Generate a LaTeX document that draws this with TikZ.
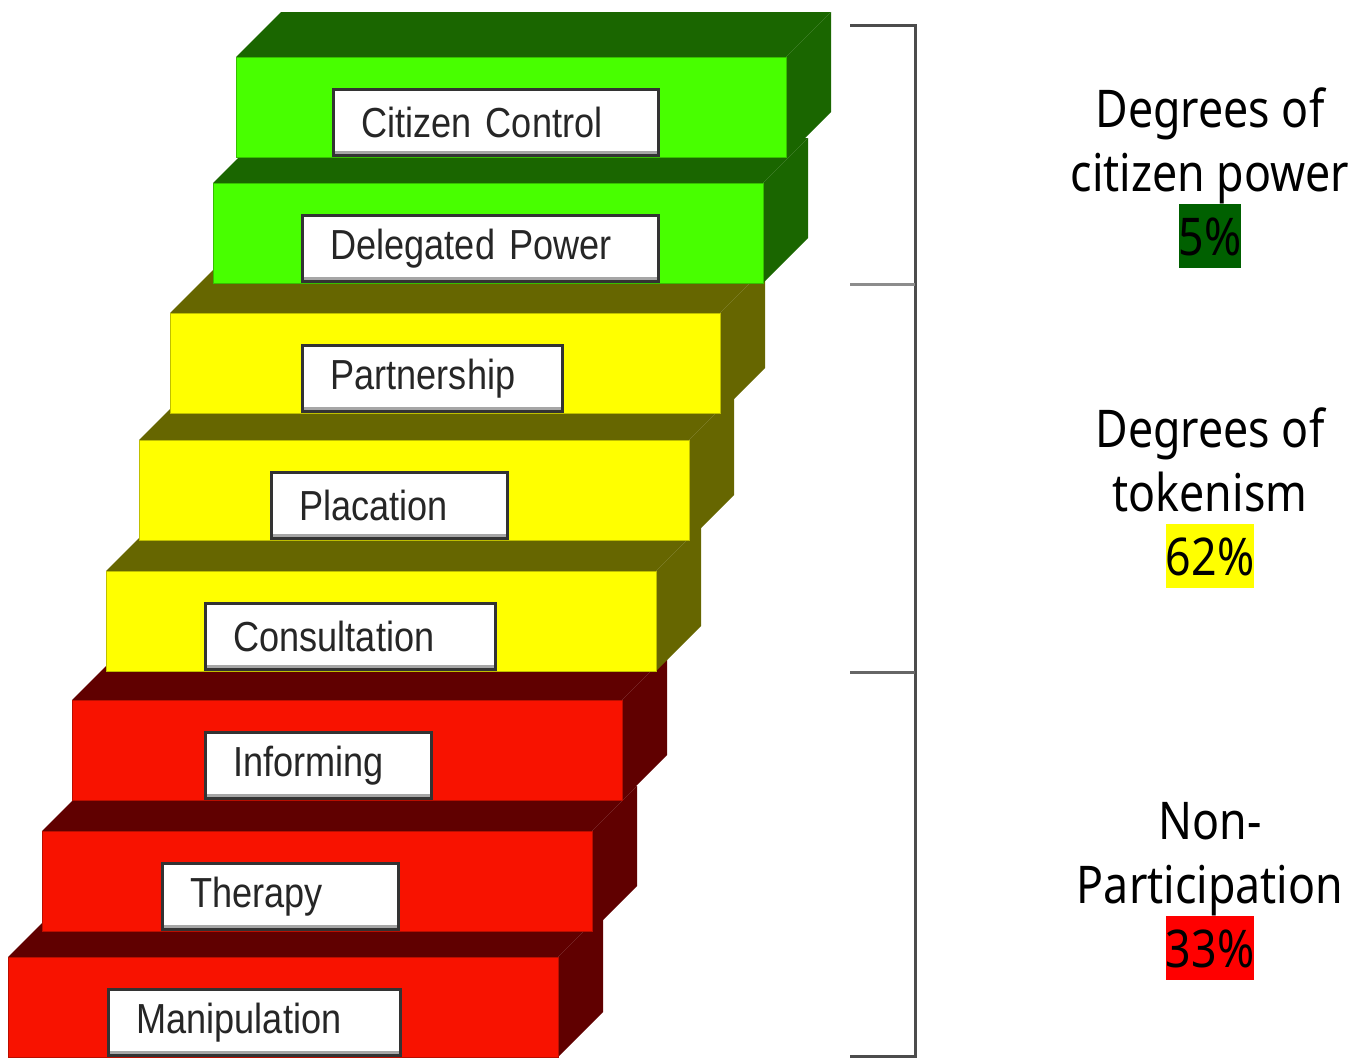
\documentclass[tikz,border=0pt]{standalone}
\usepackage{fontspec}
\setmainfont{Liberation Sans}
\newfontfamily\rungfont[FakeStretch=0.86]{Liberation Sans}
\newfontfamily\sidefont[FakeStretch=0.86]{Noto Sans}

\definecolor{grnfront}{HTML}{48FF00}
\definecolor{grnside}{HTML}{1A6600}
\definecolor{yelfront}{HTML}{FFFF00}
\definecolor{yelside}{HTML}{666600}
\definecolor{redfront}{HTML}{F81200}
\definecolor{redside}{HTML}{600000}
\definecolor{pctgreen}{HTML}{006000}
\definecolor{pctyellow}{HTML}{FFFF00}
\definecolor{pctred}{HTML}{FF0000}

% coloured box behind a percentage
\newcommand\pctbox[2]{{\setlength\fboxsep{0pt}\colorbox{#1}{\rule[-6.5pt]{0pt}{32pt}#2}}}

\tikzset{
  rungbox/.style={draw=black!80, line width=1.5pt, fill=white, anchor=south west,
    minimum height=33pt, inner xsep=14pt, inner ysep=0pt, align=left,
    font=\rungfont\fontsize{21}{24}\selectfont, text=black!85,
    path picture={\fill[black!35] (path picture bounding box.south west)
      rectangle ([yshift=2.5pt]path picture bounding box.south east);}},
  grouptext/.style={align=center, inner sep=0pt, anchor=base,
    font=\sidefont\fontsize{26}{32}\selectfont},
  bracket/.style={draw=black!70, line width=1.5pt},
}

\begin{document}
\begin{tikzpicture}[x=0.5pt, y=-0.5pt]
  \useasboundingbox (0,0) rectangle (1361,1057);

  % the ladder, bottom rung first so each upper rung covers the one below
  \foreach \x/\y/\bx/\bw/\name/\txt/\front/\side in {
      8/957/107/292/manip/Manipulation/redfront/redside,
      42/831/161/236/therapy/Therapy/redfront/redside,
      72/700/204/226/inform/Informing/redfront/redside,
      106/571/204/290/consult/Consultation/yelfront/yelside,
      139/440/270/236/placate/Placation/yelfront/yelside,
      170/313/301/260/partner/Partnership/yelfront/yelside,
      213/183/301/356/delegate/Delegated Power/grnfront/grnside,
      236/57/332/325/control/Citizen Control/grnfront/grnside} {
    % top and right side
    \fill[\side] (\x,\y) -- ++(45,-45) -- ++(550,0) -- ++(-45,45) -- cycle;
    \fill[\side] ({\x+550},\y) -- ++(45,-45) -- ++(0,100) -- ++(-45,45) -- cycle;
    % front
    \filldraw[fill=\front, draw=\front!75!black, line width=0.5pt]
      (\x,\y) rectangle ++(550,100);
    \pgfmathsetmacro{\tw}{\bw*0.5-28}
    \node[rungbox, minimum width=\bw*0.5pt, text width=\tw pt]
      (\name) at (\bx,{\y+100}) {\txt};
  }

  % bracket
  \draw[bracket] (850,25) -- (915,25) -- (915,1056) -- (850,1056);
  \draw[bracket, draw=black!45] (850,284) -- (915,284);
  \draw[bracket, draw=black!60] (850,672) -- (915,672);

  % group labels (anchored on the baseline of the last line)
  \node[grouptext] (power) at (1210,255) {Degrees of\\citizen power\\\pctbox{pctgreen}{5\%}};
  \node[grouptext] (token) at (1210,575) {Degrees of\\tokenism\\\pctbox{pctyellow}{62\%}};
  \node[grouptext] (nonpart) at (1210,967) {Non-\\Participation\\\pctbox{pctred}{33\%}};
\end{tikzpicture}
\end{document}
